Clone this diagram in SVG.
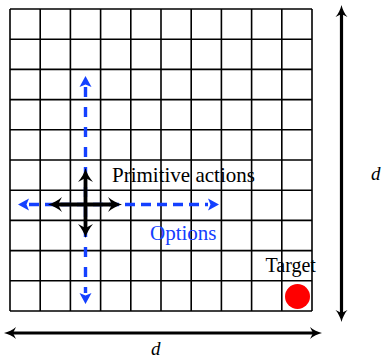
<svg xmlns="http://www.w3.org/2000/svg" width="384" height="358" viewBox="0 0 384 358">
  <style>
    .grid line { stroke: #000; stroke-width: 1.6; }
    .txt { font-family: "Liberation Serif", "Times New Roman", serif; fill: #000; }
    .blue { fill: #1440ff; }
    .dim { font-family: "Liberation Serif", "Times New Roman", serif; font-style: italic; font-size: 19px; fill: #000; }
    .opt { stroke: #1440ff; stroke-width: 3.4; fill: none; }
    .prim { stroke: #000; stroke-width: 3.8; fill: none; }
    .dimline { stroke: #000; stroke-width: 3.2; fill: none; }
  </style>
  <defs>
    <marker id="bhead" markerUnits="userSpaceOnUse" markerWidth="20" markerHeight="20" viewBox="-2 -10 20 20" refX="0" refY="0" orient="auto-start-reverse">
      <path d="M0,-6 L11,0 L0,6 L2.5,0 Z" fill="#1440ff"/>
    </marker>
    <marker id="khead" markerUnits="userSpaceOnUse" markerWidth="26" markerHeight="26" viewBox="-5 -13 26 26" refX="0" refY="0" orient="auto-start-reverse">
      <path d="M-4,-7.5 C0,-4 5,-1.2 10,0 C5,1.2 0,4 -4,7.5 L0,0 Z" fill="#000"/>
    </marker>
    <marker id="dhead" markerUnits="userSpaceOnUse" markerWidth="24" markerHeight="24" viewBox="-4 -12 24 24" refX="0" refY="0" orient="auto-start-reverse">
      <path d="M-3,-6 C0,-3.2 5,-1 9,0 C5,1 0,3.2 -3,6 L0,0 Z" fill="#000"/>
    </marker>
  </defs>

  <g id="grid" class="grid">
    <line x1="10" y1="9" x2="10" y2="311"/>
    <line x1="40.2" y1="9" x2="40.2" y2="311"/>
    <line x1="70.4" y1="9" x2="70.4" y2="311"/>
    <line x1="100.6" y1="9" x2="100.6" y2="311"/>
    <line x1="130.8" y1="9" x2="130.8" y2="311"/>
    <line x1="161" y1="9" x2="161" y2="311"/>
    <line x1="191.2" y1="9" x2="191.2" y2="311"/>
    <line x1="221.4" y1="9" x2="221.4" y2="311"/>
    <line x1="251.6" y1="9" x2="251.6" y2="311"/>
    <line x1="281.8" y1="9" x2="281.8" y2="311"/>
    <line x1="312" y1="9" x2="312" y2="311"/>
    <line x1="10" y1="9" x2="312" y2="9"/>
    <line x1="10" y1="39.2" x2="312" y2="39.2"/>
    <line x1="10" y1="69.4" x2="312" y2="69.4"/>
    <line x1="10" y1="99.6" x2="312" y2="99.6"/>
    <line x1="10" y1="129.8" x2="312" y2="129.8"/>
    <line x1="10" y1="160" x2="312" y2="160"/>
    <line x1="10" y1="190.2" x2="312" y2="190.2"/>
    <line x1="10" y1="220.4" x2="312" y2="220.4"/>
    <line x1="10" y1="250.6" x2="312" y2="250.6"/>
    <line x1="10" y1="280.8" x2="312" y2="280.8"/>
    <line x1="10" y1="311" x2="312" y2="311"/>
  </g>

  <g id="connectors">
    <line class="opt" x1="29" y1="204.5" x2="208" y2="204.5" stroke-dasharray="10 6" marker-start="url(#bhead)" marker-end="url(#bhead)"/>
    <line class="opt" x1="85.5" y1="87" x2="85.5" y2="293" stroke-dasharray="10 10" marker-start="url(#bhead)" marker-end="url(#bhead)"/>
    <line class="prim" x1="58" y1="204.5" x2="112" y2="204.5" marker-start="url(#khead)" marker-end="url(#khead)"/>
    <line class="prim" x1="85.5" y1="178" x2="85.5" y2="228" marker-start="url(#khead)" marker-end="url(#khead)"/>
    <line class="dimline" x1="341.5" y1="14" x2="341.5" y2="313" marker-start="url(#dhead)" marker-end="url(#dhead)"/>
    <line class="dimline" x1="13" y1="333" x2="313" y2="333" marker-start="url(#dhead)" marker-end="url(#dhead)"/>
  </g>

  <g id="primitive-label">
    <text class="txt" x="112" y="182" font-size="21">Primitive actions</text>
  </g>
  <g id="options-label">
    <text class="txt blue" x="150" y="239.5" font-size="21">Options</text>
  </g>
  <g id="target">
    <text class="txt" x="265.5" y="272" font-size="20">Target</text>
    <circle cx="297.5" cy="296.5" r="12.5" fill="#ff0000"/>
  </g>
  <g id="dim-labels">
    <text class="dim" x="371" y="179.5">d</text>
    <text class="dim" x="151" y="355">d</text>
  </g>
</svg>
